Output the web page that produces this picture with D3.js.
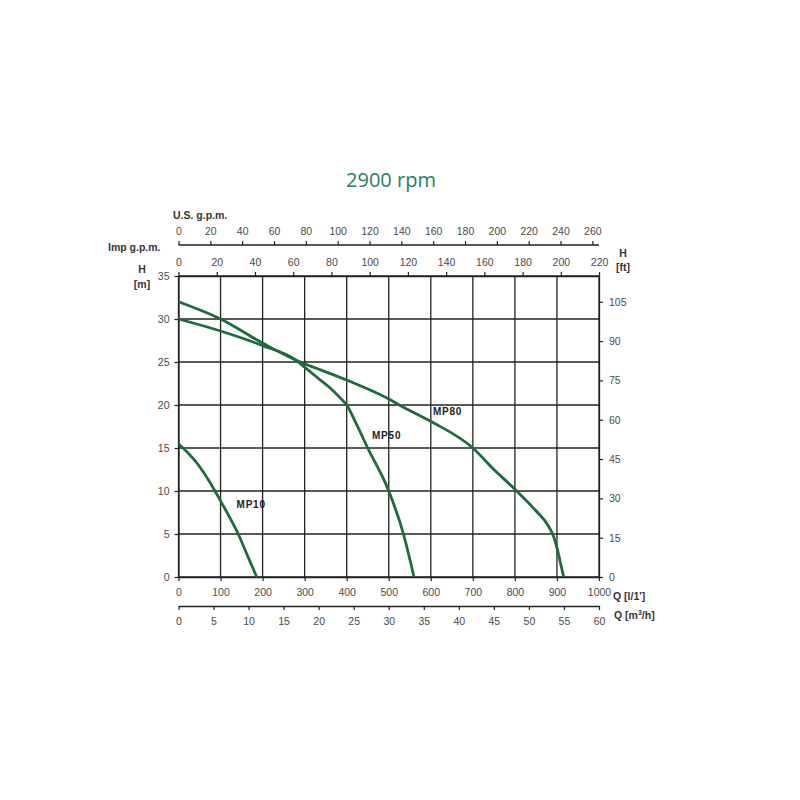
<!DOCTYPE html>
<html>
<head>
<meta charset="utf-8">
<script src="https://cdn.jsdelivr.net/npm/d3@7"></script>
<style>
  body { margin: 0; background: #fff; }
  svg text { font-family: "Liberation Sans", Arial, sans-serif; }
</style>
</head>
<body>
<svg id="chart" width="800" height="800"></svg>
<script>
// Q in l/min, H in m
const mp10Q = [0, 43, 75, 100, 122, 142, 164, 186];
const mp10H = [15.5, 13.3, 11.0, 8.85, 6.9, 5.0, 2.5, 0];

const mp50Q = [0, 100, 200, 280, 300, 330, 360, 385, 400, 420, 450, 500, 535, 560];
const mp50H = [30, 28.6, 26.9, 25.2, 24.4, 23.2, 22.0, 20.8, 20, 18.1, 15, 10, 5, 0];

const mp80Q = [0, 100, 200, 280, 300, 400, 500, 525, 600, 700, 750, 800, 850, 880, 893, 902, 909, 916];
const mp80H = [32, 30, 27.2, 25.2, 24.8, 22.9, 20.7, 20, 18.1, 15, 12.5, 10.2, 7.7, 5.9, 4.6, 3.0, 1.5, 0];

const seriesNames = ["MP10", "MP50", "MP80"];

const qTicks = [0, 100, 200, 300, 400, 500, 600, 700, 800, 900, 1000];
const m3hTicks = [0, 5, 10, 15, 20, 25, 30, 35, 40, 45, 50, 55, 60];
const usTicks = [0, 20, 40, 60, 80, 100, 120, 140, 160, 180, 200, 220, 240, 260];
const impTicks = [0, 20, 40, 60, 80, 100, 120, 140, 160, 180, 200, 220];
const hTicks = [0, 5, 10, 15, 20, 25, 30, 35];
const ftTicks = [0, 15, 30, 45, 60, 75, 90, 105];

const svg = d3.select("#chart");
const pLeft = 178.5, pRight = 599, pTop = 276, pBottom = 577;
const green = "#1d6b3c", gridColor = "#222", tickColor = "#4a4a4a";
const fmt = d3.format("d");

const x = d3.scaleLinear().domain([0, 1000]).range([pLeft, pRight]);
const y = d3.scaleLinear().domain([0, 35]).range([pBottom, pTop]);
// other units on the same pixel span
const xm3 = d3.scaleLinear().domain([0, 60]).range([pLeft, pRight]);
const xUs = d3.scaleLinear().domain([0, 1000 * 0.264172]).range([pLeft, pRight]);
const xImp = d3.scaleLinear().domain([0, 1000 * 0.219969]).range([pLeft, pRight]);
const yFt = d3.scaleLinear().domain([0, 35 * 3.28084]).range([pBottom, pTop]);

svg.append("text")
    .attr("x", 391).attr("y", 187)
    .attr("text-anchor", "middle")
    .attr("fill", "#27805a")
    .style("font-family", "'Open Sans', sans-serif")
    .style("font-size", "20px")
    .text("2900 rpm");

// grid
const gridG = svg.append("g");
gridG.selectAll("line.v").data(qTicks).join("line")
    .attr("class", "v")
    .attr("x1", d => x(d)).attr("x2", d => x(d))
    .attr("y1", pTop).attr("y2", pBottom)
    .attr("stroke", gridColor).attr("stroke-width", 1.3);
gridG.selectAll("line.h").data(hTicks).join("line")
    .attr("class", "h")
    .attr("x1", pLeft).attr("x2", pRight)
    .attr("y1", d => y(d)).attr("y2", d => y(d))
    .attr("stroke", gridColor).attr("stroke-width", 1.3);

const styleAxis = (sel) => {
    sel.attr("font-family", null);
    sel.selectAll("line").attr("stroke", gridColor).attr("stroke-width", 1.2);
    sel.select(".domain").attr("stroke", gridColor).attr("stroke-width", 1.3);
    sel.selectAll("text").attr("fill", tickColor)
        .style("font-family", "'Liberation Sans', Arial, sans-serif")
        .style("font-size", "10.5px");
};

// bottom Q [l/min]
svg.append("g").attr("transform", `translate(0,${pBottom})`)
    .call(d3.axisBottom(x).tickValues(qTicks).tickFormat(fmt).tickSize(4).tickSizeOuter(0).tickPadding(8))
    .call(styleAxis);

// bottom Q [m3/h]
svg.append("g").attr("transform", "translate(0,606)")
    .call(d3.axisBottom(xm3).tickValues(m3hTicks).tickFormat(fmt).tickSize(4).tickSizeOuter(0).tickPadding(8))
    .call(styleAxis);

// top Imp g.p.m.
svg.append("g").attr("transform", `translate(0,${pTop})`)
    .call(d3.axisTop(xImp).tickValues(impTicks).tickFormat(fmt).tickSize(4).tickSizeOuter(0).tickPadding(6))
    .call(styleAxis);

// top U.S. g.p.m.
svg.append("g").attr("transform", "translate(0,245)")
    .call(d3.axisTop(xUs).tickValues(usTicks).tickFormat(fmt).tickSize(4).tickSizeOuter(0).tickPadding(6))
    .call(a => a.select(".domain").attr("d", `M${pLeft},0H${pRight}`))
    .call(styleAxis);

// left H [m]
svg.append("g").attr("transform", `translate(${pLeft},0)`)
    .call(d3.axisLeft(y).tickValues(hTicks).tickFormat(fmt).tickSize(4).tickSizeOuter(0).tickPadding(5))
    .call(styleAxis);

// right H [ft]
svg.append("g").attr("transform", `translate(${pRight},0)`)
    .call(d3.axisRight(yFt).tickValues(ftTicks).tickFormat(fmt).tickSize(4).tickSizeOuter(0).tickPadding(6))
    .call(styleAxis);

// axis titles
const label = (tx, ty, txt, anchor) => svg.append("text")
    .attr("x", tx).attr("y", ty)
    .attr("text-anchor", anchor || "start")
    .attr("fill", "#333")
    .style("font-size", "10.5px")
    .style("font-weight", "bold")
    .text(txt);

label(173, 219, "U.S. g.p.m.");
label(108, 251, "Imp g.p.m.");
label(142, 273, "H", "middle");
label(142, 288, "[m]", "middle");
label(623, 257, "H", "middle");
label(623, 271, "[ft]", "middle");
label(613, 600, "Q [l/1']");
const m3 = label(614, 619, "Q [m");
m3.append("tspan").attr("dy", -4).style("font-size", "7px").text("3");
m3.append("tspan").attr("dy", 4).text("/h]");

// curves
const curves = [
    d3.zip(mp10Q, mp10H),
    d3.zip(mp50Q, mp50H),
    d3.zip(mp80Q, mp80H)
];

const curveLine = d3.line()
    .x(d => x(d[0]))
    .y(d => y(d[1]))
    .curve(d3.curveMonotoneX);

curves.forEach(pts => {
    svg.append("path")
        .datum(pts)
        .attr("fill", "none")
        .attr("stroke", green)
        .attr("stroke-width", 2.8)
        .attr("d", curveLine);
});

// series labels
const namePos = [[138, 8], [460, 16], [605, 18.8]];
seriesNames.forEach((n, i) => {
    svg.append("text")
        .attr("x", x(namePos[i][0])).attr("y", y(namePos[i][1]))
        .attr("fill", "#222")
        .style("font-size", "10px")
        .style("font-weight", "bold")
        .style("letter-spacing", "0.8px")
        .text(n);
});
</script>
</body>
</html>
